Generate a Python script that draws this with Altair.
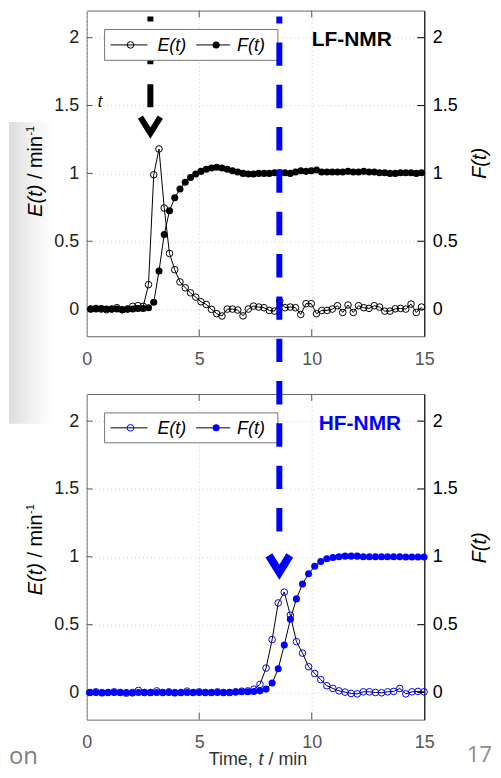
import altair as alt
import pandas as pd

FONT = "Liberation Sans"
W, H = 339, 327
GAP = 58
BLUE = "#0000ff"

# sampling grids (start, step) in minutes
LF_T0, LF_DT = 0.18, 0.2333
HF_T0, HF_DT = 0.14, 0.27

lf_E = [0.0, 0.005, 0.0, -0.005, 0.0, 0.01, -0.005, 0.0, 0.02, 0.025, 0.02,
        0.18, 0.99, 1.18, 0.745, 0.41, 0.29, 0.20, 0.157, 0.12, 0.088, 0.054,
        0.034, -0.002, -0.034, -0.051, 0.0, 0.0, -0.007, -0.05, 0.0, 0.022,
        0.015, 0.01, -0.01, -0.015, 0.059, 0.01, 0.015, 0.01, -0.04, 0.04,
        0.04, -0.034, -0.01, -0.01, 0.0, 0.025, -0.025, 0.03, -0.025, 0.025,
        0.01, 0.005, 0.025, 0.015, -0.015, -0.015, 0.002, 0.005, 0.0, 0.037,
        -0.025, 0.015]
lf_F = [0.0, 0.0, 0.005, 0.0, 0.0, 0.0, -0.005, 0.0, 0.0, 0.005, 0.005,
        0.01, 0.05, 0.28, 0.55, 0.725, 0.82, 0.885, 0.934, 0.97, 0.995, 1.015,
        1.03, 1.04, 1.045, 1.04, 1.03, 1.02, 1.01, 1.0, 0.995, 0.995,
        1.0, 1.0, 1.0, 1.005, 1.005, 1.005, 1.0, 1.01, 1.02, 1.015,
        1.02, 1.025, 1.01, 1.01, 1.01, 1.01, 1.01, 1.015, 1.01, 1.01,
        1.015, 1.01, 1.01, 1.005, 1.005, 1.0, 1.0, 1.005, 1.005, 1.005,
        1.0, 1.005]
hf_E = [0.0, 0.005, 0.0, 0.0, 0.005, 0.0, -0.005, 0.0, 0.015, 0.0, 0.0,
        0.012, 0.0, 0.005, 0.0, 0.0, 0.01, 0.0, 0.005, 0.0, 0.0, 0.005, 0.0,
        0.0, 0.005, 0.01, 0.012,
        0.025, 0.06, 0.18, 0.39, 0.66, 0.74, 0.57, 0.375, 0.29, 0.19, 0.14,
        0.095, 0.05, 0.03, 0.012, 0.003, -0.007, -0.01, 0.005, 0.005, 0.0,
        -0.002, 0.005, 0.008, 0.03, -0.01, 0.005, 0.008, 0.005]
hf_F = [0.0, 0.0, -0.003, 0.0, 0.0, 0.0, 0.0, -0.003, 0.0, 0.0, 0.0, 0.0,
        0.0, 0.0, -0.003, 0.0, 0.0, 0.0, 0.0, 0.0, 0.0, 0.0, 0.0, 0.0, 0.003,
        0.005, 0.005, 0.008,
        0.012, 0.025, 0.07, 0.175, 0.35, 0.54, 0.69, 0.80, 0.875, 0.93, 0.965,
        0.985, 0.995, 1.0, 1.005, 1.005, 1.005, 1.0, 1.0, 1.0, 1.0, 1.0, 1.0,
        1.0, 0.998, 0.998, 0.998, 0.998]

x_ticks = [0, 5, 10, 15]
x_inner_ticks = [5, 10]
y_ticks = [0, 0.5, 1, 1.5, 2]
x_domain = [0, 15]
y_domain = [-0.2, 2.2]

LF_ARROW_T = 2.83
HF_ARROW_T = 8.56

lf_t = [round(LF_T0 + i * LF_DT, 4) for i in range(len(lf_E))]
hf_t = [round(HF_T0 + i * HF_DT, 4) for i in range(len(hf_E))]
lf_df = pd.DataFrame({"t": lf_t, "E": lf_E, "F": lf_F})
hf_df = pd.DataFrame({"t": hf_t, "E": hf_E, "F": hf_F})
one = pd.DataFrame({"k": [0]})

x_axis = alt.Axis(orient="bottom", values=x_ticks, labelFontSize=18, labelFont=FONT,
                  labelColor="#555555", labelPadding=14, ticks=False, tickSize=0,
                  domain=False, grid=True, gridColor="#cccccc", gridDash=[1, 3],
                  labelFlush=False, title=None)
left_axis = alt.Axis(orient="left", values=y_ticks, format="~g", labelFontSize=18,
                     labelFont=FONT, labelColor="#222222", labelPadding=8,
                     ticks=False, tickSize=0, domain=False, grid=True,
                     gridColor="#cccccc", gridDash=[1, 3], title=None)
right_axis = alt.Axis(orient="right", values=y_ticks, format="~g", labelFontSize=18,
                      labelFont=FONT, labelColor="black", labelPadding=8,
                      ticks=False, tickSize=0, domain=True, domainColor="black",
                      grid=False, title=None)

xenc = alt.X("t:Q", scale=alt.Scale(domain=x_domain, nice=False, zero=False), axis=x_axis)


def yenc(field, axis):
    return alt.Y(f"{field}:Q", scale=alt.Scale(domain=y_domain, nice=False, zero=False),
                 axis=axis)


def txt(s, x, y, size=18, color="black", style="normal", weight="normal", angle=0,
        align="left", baseline="middle", font=FONT):
    kw = dict(fontSize=size, color=color, fontStyle=style, fontWeight=weight,
              align=align, baseline=baseline, font=font)
    if angle:
        kw["angle"] = angle
    return alt.Chart(one).mark_text(**kw).encode(x=alt.value(x), y=alt.value(y),
                                                 text=alt.value(s))


def legend(pt_color, y0, y1):
    yc = (y0 + y1) / 2
    c = alt.Chart(one)
    return [
        c.mark_rect(fill="white", stroke="#777777", strokeWidth=1).encode(
            x=alt.value(18), x2=alt.value(192), y=alt.value(y0), y2=alt.value(y1)),
        c.mark_rule(color="black", strokeWidth=1).encode(
            x=alt.value(24), x2=alt.value(61), y=alt.value(yc)),
        c.mark_point(shape="circle", filled=False, size=44, strokeWidth=1,
                     color=pt_color, opacity=1).encode(x=alt.value(44), y=alt.value(yc)),
        txt("E(t)", 71, yc + 1, 18, style="italic"),
        c.mark_rule(color="black", strokeWidth=1).encode(
            x=alt.value(110), x2=alt.value(144), y=alt.value(yc)),
        c.mark_circle(size=50, color=pt_color, opacity=1).encode(
            x=alt.value(130), y=alt.value(yc)),
        txt("F(t)", 151, yc + 1, 18, style="italic"),
    ]


def left_title(start):
    return [
        txt("E(t)", -45, start, 20, style="italic", angle=270, baseline="alphabetic"),
        txt("/ min", -45, start - 37.8, 20, angle=270, baseline="alphabetic"),
        txt("-1", -53, start - 81.5, 11, angle=270, baseline="alphabetic"),
    ]


def data_layers(df, pt_color):
    yE = yenc("E", left_axis)
    yF = yenc("F", right_axis)
    base = alt.Chart(df)
    ytk = alt.Chart(pd.DataFrame({"E": y_ticks}))
    e_group = alt.layer(
        base.mark_line(color="black", strokeWidth=1).encode(x=xenc, y=yE),
        base.mark_point(shape="circle", filled=False, size=44, strokeWidth=1,
                        color=pt_color, opacity=1).encode(x=xenc, y=yE),
        ytk.mark_rule(color="#555555").encode(x=alt.value(0), x2=alt.value(6), y=yE),
        ytk.mark_rule(color="black").encode(x=alt.value(W - 7), x2=alt.value(W), y=yE),
    )
    f_group = alt.layer(
        base.mark_line(color="black", strokeWidth=1).encode(x=xenc, y=yF),
        base.mark_circle(size=50, color=pt_color, opacity=1).encode(x=xenc, y=yF),
    )
    xtk = alt.Chart(pd.DataFrame({"t": x_inner_ticks}))
    ticks = [
        xtk.mark_rule(color="#555555").encode(x=xenc, y=alt.value(0), y2=alt.value(7)),
        xtk.mark_rule(color="#555555").encode(x=xenc, y=alt.value(H - 7), y2=alt.value(H)),
    ]
    return [e_group, f_group] + ticks


shade = alt.LinearGradient(
    gradient="linear",
    stops=[alt.GradientStop(color="#dcdcdc", offset=0),
           alt.GradientStop(color="#f0f0f0", offset=0.5),
           alt.GradientStop(color="#ffffff", offset=1)],
    x1=0, y1=0, x2=1, y2=0)
bg_rect = alt.Chart(one).mark_rect(fill=shade, strokeWidth=0).encode(
    x=alt.value(-78), x2=alt.value(-34), y=alt.value(112), y2=alt.value(415))

# top panel (LF-NMR)
lf_arrow = alt.Chart(pd.DataFrame({"t": [LF_ARROW_T]}))
top_layers = [bg_rect] + data_layers(lf_df, "black") + [
    lf_arrow.mark_rule(color="black", strokeWidth=6, strokeDash=[23, 20],
                       strokeDashOffset=18, strokeCap="butt", strokeJoin="bevel").encode(
        x=xenc, y=alt.value(6), y2=alt.value(97)),
    lf_arrow.mark_point(shape="M-0.77,-0.62L0,0.62L0.77,-0.62", filled=False,
                        size=676, strokeWidth=6, color="black", opacity=1,
                        strokeJoin="miter", strokeCap="butt").encode(
        x=xenc, y=alt.value(115)),
] + legend("black", 19, 50) + [
    txt("LF-NMR", 226, 30, 21, weight="bold"),
    txt("t", 11, 92, 16, style="italic"),
] + left_title(207) + [
    txt("F(t)", 401, 169, 20, style="italic", angle=270, baseline="alphabetic"),
]
top = alt.layer(*top_layers).resolve_scale(y="independent").properties(width=W, height=H)

# bottom panel (HF-NMR)
hf_arrow = alt.Chart(pd.DataFrame({"t": [HF_ARROW_T]}))
bottom_layers = data_layers(hf_df, BLUE) + legend(BLUE, 19, 49) + [
    txt("HF-NMR", 233, 30, 21, weight="bold", color=BLUE),
] + left_title(202) + [
    txt("F(t)", 401, 170, 20, style="italic", angle=270, baseline="alphabetic"),
    txt("Time,", 122.5, 373, 18, color="#333333", baseline="alphabetic"),
    txt("t", 172.5, 373, 18, color="#333333", style="italic", baseline="alphabetic"),
    txt("/ min", 182.5, 373, 18, color="#333333", baseline="alphabetic"),
    txt("on", -78, 372, 24, color="#7f7f7f", baseline="alphabetic", font="Open Sans"),
    txt("17", 407, 370, 22, color="#8c8c8c", baseline="alphabetic", align="right",
        font="Open Sans"),
    hf_arrow.mark_rule(color=BLUE, strokeWidth=6, strokeDash=[23.5, 19],
                       strokeDashOffset=16.5, strokeCap="butt", strokeJoin="bevel").encode(
        x=xenc, y=alt.value(-(H + GAP) + 6), y2=alt.value(139)),
    hf_arrow.mark_point(shape="M-0.75,-0.6L0,0.6L0.75,-0.6", filled=False,
                        size=784, strokeWidth=8, color=BLUE, opacity=1,
                        strokeJoin="miter", strokeCap="butt").encode(
        x=xenc, y=alt.value(170.5)),
]
bottom = alt.layer(*bottom_layers).resolve_scale(y="independent").properties(width=W, height=H)

chart = alt.vconcat(top, bottom, spacing=GAP, bounds="flush").properties(
    padding=0).configure_view(stroke="#666666", strokeWidth=1)

chart.save("out.html", embed_options={"renderer": "svg", "actions": False})
